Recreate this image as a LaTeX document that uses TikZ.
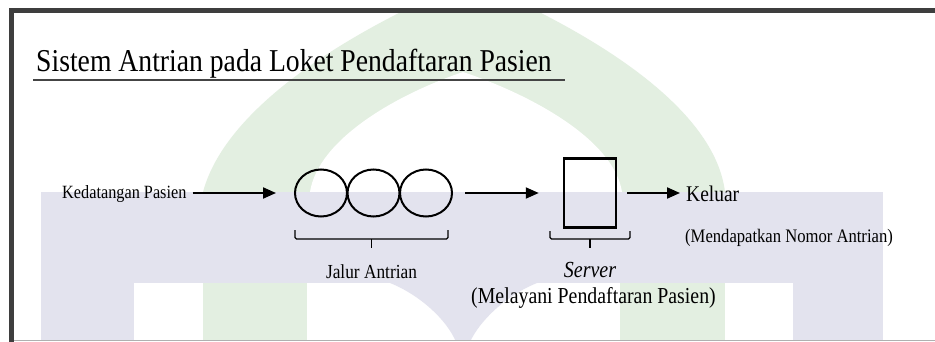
\documentclass[tikz,border=0pt]{standalone}
\usepackage{fontspec}
\setmainfont{Liberation Serif}
\usetikzlibrary{shapes.geometric,arrows.meta}

\definecolor{wmgreen}{RGB}{227,239,225}
\definecolor{wmgray}{RGB}{227,227,238}
\definecolor{framegray}{RGB}{62,62,62}
\definecolor{rulegray}{RGB}{68,68,68}
\definecolor{edgegray}{RGB}{176,176,176}

% narrow (condensed) setting of the lettering
\newcommand\condensed[1]{\scalebox{0.87}[1]{#1}}

\tikzset{
  flow/.style={line width=2pt, -{Triangle[length=13pt,width=11pt]}},
  queueslot/.style={ellipse, draw, line width=2pt, minimum width=52pt,
    minimum height=47pt, inner sep=0pt},
  serverbox/.style={rectangle, draw, line width=2.5pt, minimum width=52pt,
    minimum height=69pt, inner sep=0pt},
  bracket/.style={line width=1.3pt, rounded corners=1.5pt},
  txt/.style={inner sep=0pt},
}

\begin{document}
\begin{tikzpicture}[x=1pt,y=-1pt]
\useasboundingbox (0,0) rectangle (935,342);
\fill[white] (0,0) rectangle (935,342);

% faint emblem in the background
\begin{scope}
  \clip (14,14) rectangle (935,339);
  \fill[wmgreen] (203,192) .. controls (225,110) and (340,35) .. (470,-20)
                 .. controls (600,35) and (715,110) .. (725,192) -- cycle;
  \fill[white] (310,192) .. controls (318,140) and (395,95) .. (463,72)
               .. controls (532,95) and (614,140) .. (622,192) -- cycle;
  \fill[wmgray] (41,192) rectangle (883,342);
  \fill[white] (134,283) rectangle (793,342);
  \fill[wmgreen] (203,283) rectangle (307,342);
  \fill[wmgreen] (620,283) rectangle (725,342);
  \fill[wmgray] (390,283) .. controls (420,295) and (447,320) .. (456,342)
                -- (470,342) .. controls (480,320) and (507,295) .. (537,283) -- cycle;
\end{scope}

% frame
\draw[edgegray, line width=1.5pt] (14,340.5) -- (935,340.5);
\draw[framegray, line width=5pt] (11,342) -- (11,11) -- (935,11);

% title
\node[txt, anchor=base west, font=\fontsize{31.8}{36}\selectfont] (title) at (36,72)
  {\condensed{Sistem Antrian pada Loket Pendaftaran Pasien}};
\draw[rulegray, line width=2.5pt] (33,80) -- (565,80);

% queue system
\node[txt, anchor=base west, font=\fontsize{18.7}{22}\selectfont] (arrive) at (62,198)
  {\condensed{Kedatangan Pasien}};
\node[queueslot] (q1) at (321,193) {};
\node[queueslot] (q2) at (373.5,193) {};
\node[queueslot] (q3) at (426,193) {};
\node[serverbox] (srv) at (590,193) {};
\node[txt, anchor=base west, font=\fontsize{22.4}{26}\selectfont] (exit) at (686,201)
  {\condensed{Keluar}};
\node[txt, anchor=base west, font=\fontsize{19.1}{22}\selectfont] (exitnote) at (685,242)
  {\condensed{(Mendapatkan Nomor Antrian)}};

\draw[flow, shorten <=6pt, shorten >=18pt] (arrive.east |- q1.west) -- (q1.west);
\draw[flow, shorten <=12pt, shorten >=24pt] (q3.east) -- (srv.west);
\draw[flow, shorten <=10pt, shorten >=6pt] (srv.east) -- (srv.east -| exit.west);

% brackets under the queue and the server
\draw[bracket] (295,230) -- (295,239) -- (448,239) -- (448,230);
\draw[bracket] (371.5,239) -- (371.5,248);
\draw[bracket] (550,231) -- (550,239) -- (630,239) -- (630,231);
\draw[bracket] (590,239) -- (590,248);

\node[txt, anchor=base, font=\fontsize{19.9}{23}\selectfont] (qlabel) at (371.5,278)
  {\condensed{Jalur Antrian}};
\node[txt, anchor=base, font=\fontsize{23}{26}\selectfont\itshape] (slabel) at (590,277)
  {\condensed{Server}};
\node[txt, anchor=base, font=\fontsize{22.8}{26}\selectfont] (snote) at (593.5,303)
  {\condensed{(Melayani Pendaftaran Pasien)}};
\end{tikzpicture}
\end{document}
